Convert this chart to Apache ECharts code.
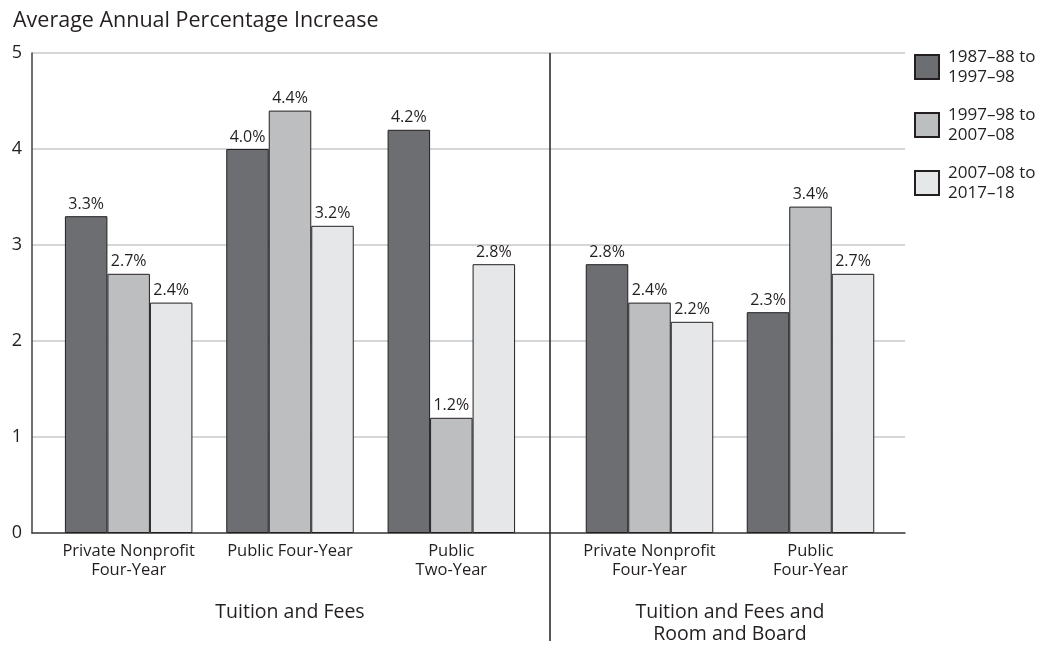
<!DOCTYPE html>
<html>
<head>
<meta charset="utf-8">
<script src="https://cdn.jsdelivr.net/npm/echarts@6/dist/echarts.min.js"></script>
<style>
  html, body { margin: 0; padding: 0; background: #fff; }
  #chart { width: 1039px; height: 645px; }
</style>
</head>
<body>
<div id="chart"></div>
<script>
// Categories for the two panels
const tuitionCategories = ['Private Nonprofit\nFour-Year', 'Public Four-Year', 'Public\nTwo-Year'];
const roomBoardCategories = ['Private Nonprofit\nFour-Year', 'Public\nFour-Year'];
const periodNames = ['1987–88 to\n1997–98', '1997–98 to\n2007–08', '2007–08 to\n2017–18'];

// Average annual percentage increase, tuition and fees
const tuition8798 = [3.3, 4.0, 4.2];
const tuition9808 = [2.7, 4.4, 1.2];
const tuition0818 = [2.4, 3.2, 2.8];

// Average annual percentage increase, tuition, fees, room and board
const roomBoard8798 = [2.8, 2.3];
const roomBoard9808 = [2.4, 3.4];
const roomBoard0818 = [2.2, 2.7];

const yTicks = [0, 1, 2, 3, 4, 5];

const FONT = '"Open Sans", "Noto Sans", sans-serif';
const INK = '#231f20';
const fills = ['#6d6e71', '#bcbec0', '#e6e7e8'];

// Layout (px)
const W = 1039, H = 645;
const plotLeft = 32, plotRight = 905, plotTop = 53, plotBottom = 533;
const leftPanel = { left: 48, right: 532 };
const rightPanel = { left: 569, right: 891 };
const dividerX = 550;

const chart = echarts.init(document.getElementById('chart'), null, { renderer: 'canvas' });

function barSeries(name, data, idx, gridIdx) {
  return {
    type: 'bar',
    name: name,
    data: data,
    xAxisIndex: gridIdx,
    yAxisIndex: gridIdx,
    barWidth: 42.5,
    barGap: '0%',
    itemStyle: { color: fills[idx], borderColor: INK, borderWidth: 1 },
    label: {
      show: true,
      position: 'top',
      distance: 4,
      fontFamily: FONT,
      fontSize: 16,
      color: INK,
      formatter: p => p.value.toFixed(1) + '%'
    },
    emphasis: { disabled: true },
    animation: false
  };
}

const catAxisCommon = {
  type: 'category',
  axisLine: { show: false },
  axisTick: { show: false },
  axisLabel: { fontFamily: FONT, fontSize: 16.5, color: INK, margin: 9, lineHeight: 19, interval: 0 },
  nameLocation: 'middle',
  nameGap: 68,
  nameTextStyle: { fontFamily: FONT, fontSize: 19.5, color: INK, lineHeight: 22 }
};

const hiddenValueY = { type: 'value', min: 0, max: 5, interval: 1, show: false };

const gridCommon = { top: plotTop, bottom: H - plotBottom, containLabel: false, outerBoundsMode: 'none' };

chart.setOption({
  backgroundColor: '#fff',
  animation: false,
  title: {
    text: 'Average Annual Percentage Increase',
    left: 8,
    top: 5,
    textStyle: { fontFamily: FONT, fontSize: 21.5, fontWeight: 'normal', color: INK }
  },
  legend: {
    data: periodNames,
    orient: 'vertical',
    left: 914,
    top: 39.5,
    padding: 0,
    itemWidth: 24,
    itemHeight: 24,
    itemGap: 3,
    icon: 'rect',
    selectedMode: false,
    textStyle: { fontFamily: FONT, fontSize: 17, color: INK, lineHeight: 20, padding: [0, 0, 15, 4] }
  },
  grid: [
    Object.assign({ left: plotLeft, right: W - plotRight }, gridCommon),
    Object.assign({ left: leftPanel.left, right: W - leftPanel.right }, gridCommon),
    Object.assign({ left: rightPanel.left, right: W - rightPanel.right }, gridCommon)
  ],
  xAxis: [
    {
      gridIndex: 0, type: 'value', min: 0, max: 1,
      axisLine: { show: true, lineStyle: { color: '#414042', width: 1.5 } },
      axisTick: { show: false }, axisLabel: { show: false }, splitLine: { show: false }
    },
    Object.assign({ gridIndex: 1, data: tuitionCategories, name: 'Tuition and Fees' }, catAxisCommon),
    Object.assign({ gridIndex: 2, data: roomBoardCategories, name: 'Tuition and Fees and\nRoom and Board' }, catAxisCommon)
  ],
  yAxis: [
    {
      gridIndex: 0, type: 'value', min: yTicks[0], max: yTicks[yTicks.length - 1], interval: 1,
      axisLine: { show: true, lineStyle: { color: '#414042', width: 1.5 } },
      axisTick: { show: false },
      axisLabel: { fontFamily: FONT, fontSize: 18, color: INK, margin: 10 },
      splitLine: { show: true, lineStyle: { color: '#c7c8ca', width: 1.5 } }
    },
    Object.assign({ gridIndex: 1 }, hiddenValueY),
    Object.assign({ gridIndex: 2 }, hiddenValueY)
  ],
  series: [
    barSeries(periodNames[0], tuition8798, 0, 1),
    barSeries(periodNames[1], tuition9808, 1, 1),
    barSeries(periodNames[2], tuition0818, 2, 1),
    barSeries(periodNames[0], roomBoard8798, 0, 2),
    barSeries(periodNames[1], roomBoard9808, 1, 2),
    barSeries(periodNames[2], roomBoard0818, 2, 2)
  ],
  graphic: [
    {
      type: 'line',
      z: 10,
      shape: { x1: dividerX, y1: plotTop, x2: dividerX, y2: H - 4 },
      style: { stroke: INK, lineWidth: 1.5 }
    }
  ]
});
</script>
</body>
</html>
